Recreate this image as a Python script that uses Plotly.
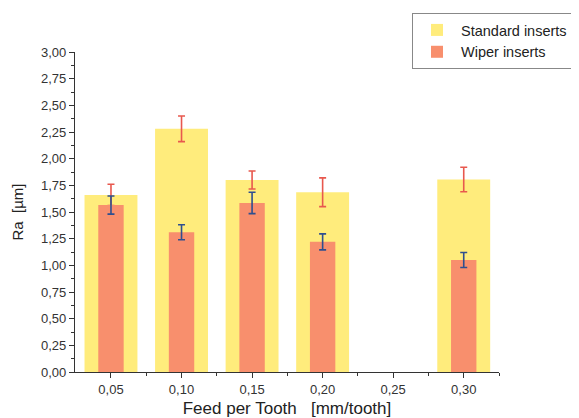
import plotly.graph_objects as go

feed = [0.05, 0.10, 0.15, 0.20, 0.25, 0.30]
tick_labels = ["0,05", "0,10", "0,15", "0,20", "0,25", "0,30"]
standard = [1.66, 2.28, 1.80, 1.685, None, 1.805]
standard_err = [0.10, 0.12, 0.085, 0.135, None, 0.115]
wiper = [1.565, 1.31, 1.585, 1.22, None, 1.05]
wiper_err = [0.085, 0.07, 0.10, 0.075, None, 0.07]

FONT = "Liberation Sans, Arial, sans-serif"

# page body adds an 8px offset; size the figure to fill the remaining window
W, H = 571, 410

fig = go.Figure()
fig.add_trace(go.Bar(
    x=feed, y=standard, width=0.0375, name="Standard inserts",
    marker=dict(color="#FFEC7C", line=dict(width=0)),
    error_y=dict(type="data", array=standard_err, color="#E8584E", thickness=1.6, width=3.5),
))
fig.add_trace(go.Bar(
    x=feed, y=wiper, width=0.018, name="Wiper inserts",
    marker=dict(color="#F88F6D", line=dict(width=0)),
    error_y=dict(type="data", array=wiper_err, color="#2F4F8F", thickness=1.6, width=3.5),
))

fig.update_layout(
    barmode="overlay",
    width=W, height=H,
    margin=dict(l=67, r=80, t=44, b=46, autoexpand=False),
    paper_bgcolor="white", plot_bgcolor="white",
    separators=", ",
    font=dict(family=FONT, size=12, color="#222"),
    legend=dict(
        xref="container", yref="container",
        x=(412 - 8) / W, y=1 - (13 - 8) / H, xanchor="left", yanchor="top",
        bordercolor="#888", borderwidth=1, bgcolor="white",
        font=dict(family=FONT, size=14.5, color="#222"),
        tracegroupgap=0, itemwidth=38,
    ),
    showlegend=True,
)
fig.update_xaxes(
    range=[0.0245, 0.325], automargin=False,
    tickvals=feed, ticktext=tick_labels,
    ticks="outside", ticklen=5, tickwidth=1.2, tickcolor="#333",
    minor=dict(tickvals=[0.075, 0.125, 0.175, 0.225, 0.275, 0.325], ticks="outside", ticklen=3, tickcolor="#333"),
    showline=True, linecolor="#333", linewidth=1.2,
    showgrid=False, zeroline=False,
    tickfont=dict(family=FONT, size=13, color="#333"),
    title=dict(text="Feed per Tooth&nbsp;&nbsp; [mm/tooth]", font=dict(family=FONT, size=17, color="#222"), standoff=10),
)
fig.update_yaxes(
    range=[0, 3.0], automargin=False,
    tick0=0, dtick=0.25, tickformat=".2f",
    ticks="outside", ticklen=5, tickwidth=1.2, tickcolor="#333",
    minor=dict(dtick=0.125, ticks="outside", ticklen=3, tickcolor="#333"),
    showline=True, linecolor="#333", linewidth=1.2,
    showgrid=False, zeroline=False,
    tickfont=dict(family=FONT, size=13, color="#333"),
    title=dict(text="Ra&nbsp; [µm]", font=dict(family=FONT, size=15, color="#222"), standoff=13),
)

fig.write_html("out.html")
